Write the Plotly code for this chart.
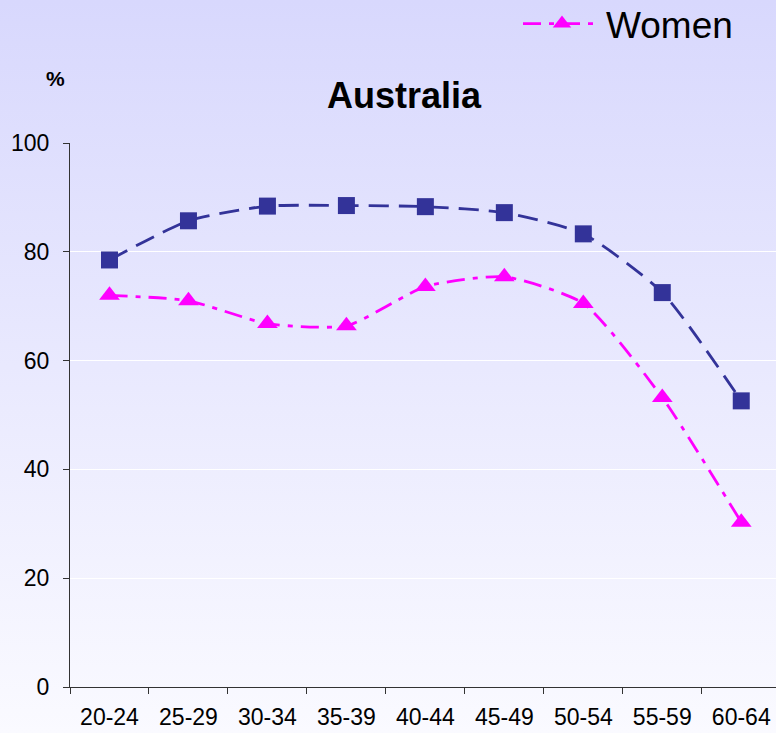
import base64
import plotly.graph_objects as go

categories = ["20-24", "25-29", "30-34", "35-39", "40-44", "45-49", "50-54", "55-59", "60-64"]
men = [78.5, 85.7, 88.4, 88.5, 88.3, 87.2, 83.3, 72.5, 52.6]
women = [72.0, 71.0, 66.8, 66.4, 73.6, 75.4, 70.5, 53.2, 30.3]
y_ticks = [0, 20, 40, 60, 80, 100]

W, H = 776, 733
ML, MR, MT, MB = 70, 0, 143, 46

svg = (
    f'<svg xmlns="http://www.w3.org/2000/svg" width="{W}" height="{H}" preserveAspectRatio="none">'
    '<defs><linearGradient id="g" x1="0" y1="0" x2="0" y2="1">'
    '<stop offset="0" stop-color="#D8D8FD"/><stop offset="1" stop-color="#FAFAFF"/>'
    '</linearGradient></defs>'
    f'<rect x="0" y="0" width="{W}" height="{H}" fill="url(#g)"/></svg>'
)
uri = "data:image/svg+xml;base64," + base64.b64encode(svg.encode()).decode()

fig = go.Figure()
fig.add_trace(go.Scatter(
    x=categories, y=men, name="Men", showlegend=False,
    mode="lines+markers",
    line=dict(color="#333399", width=2.8, dash="20px,10px", shape="spline", smoothing=0.6),
    marker=dict(symbol="square", size=17, color="#333399"),
))
fig.add_trace(go.Scatter(
    x=categories, y=women, name="Women",
    mode="lines+markers",
    line=dict(color="#FF00FF", width=2.8, dash="18px,8px,5px,8px", shape="spline", smoothing=0.6),
    marker=dict(symbol="triangle-up", size=18, color="#FF00FF"),
))

pw = W - ML - MR
ph = H - MT - MB
fig.add_layout_image(dict(
    source=uri, xref="paper", yref="paper",
    x=-ML / pw, y=1 + MT / ph, sizex=W / pw, sizey=H / ph,
    xanchor="left", yanchor="top", sizing="stretch", layer="below",
))

fig.update_layout(
    width=W, height=H,
    margin=dict(l=ML, r=MR, t=MT, b=MB, autoexpand=False),
    paper_bgcolor="rgba(0,0,0,0)",
    plot_bgcolor="rgba(0,0,0,0)",
    font=dict(family="Liberation Sans, Arial, sans-serif", color="black"),
    title=dict(text="<b>Australia</b>", x=404 / W, xanchor="center",
               y=1 - 95 / H, yanchor="middle", font=dict(size=36)),
    showlegend=True,
    legend=dict(xref="paper", yref="paper", x=(738 - ML) / pw, xanchor="right",
                y=1 + (MT + 7) / ph, yanchor="top", font=dict(size=37), itemwidth=78,
                bgcolor="rgba(0,0,0,0)"),
    xaxis=dict(
        type="category", range=[-0.5, 8.44], tickson="boundaries",
        ticks="outside", ticklen=6, tickcolor="#333333", tickangle=0,
        showline=True, linecolor="#333333", linewidth=1.2,
        showgrid=False, tickfont=dict(size=23), zeroline=False,
        ticklabelstandoff=9,
    ),
    yaxis=dict(
        range=[0, 100], tickvals=y_ticks, ticks="outside", ticklen=6,
        tickcolor="#333333", showline=True, linecolor="#333333", linewidth=1.2,
        showgrid=True, gridcolor="white", gridwidth=1.2,
        tickfont=dict(size=23), zeroline=False, ticklabelstandoff=9,
    ),
    annotations=[dict(text="<b>%</b>", xref="paper", yref="paper",
                      x=(55 - ML) / pw, y=1 + (MT - 78) / ph, showarrow=False,
                      font=dict(size=21), xanchor="center", yanchor="middle")],
)

fig.write_html("out.html", config={"displayModeBar": False},
               post_script="document.body.style.margin='0';")
